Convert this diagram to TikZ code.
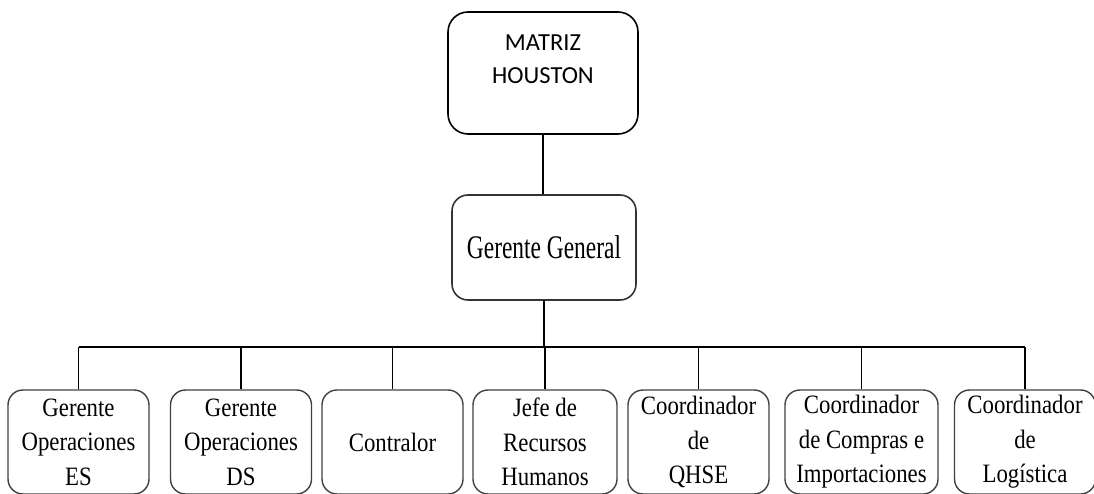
\documentclass[tikz,border=0pt]{standalone}
\usepackage{fontspec}
\newfontfamily\hqfont{Carlito}
\newfontfamily\gerfont[FakeStretch=0.71]{Liberation Serif}
\newfontfamily\unitfont[FakeStretch=0.86]{Liberation Serif}
\begin{document}
\begin{tikzpicture}[x=1pt,y=-1pt,
	topbox/.style={draw=black,line width=1.6pt,rounded corners=20pt,minimum width=190pt,minimum height=122pt,align=center,font={\hqfont\fontsize{24.5}{33}\selectfont},text depth=28pt},
	genbox/.style={draw=black!80,line width=1.6pt,rounded corners=16pt,minimum width=184pt,minimum height=105pt,font={\gerfont\fontsize{33}{37}\selectfont}},
	unitbox/.style={draw=black!75,line width=1.4pt,rounded corners=15pt,minimum width=141pt,minimum height=104pt,inner sep=0pt,align=center,font={\unitfont\fontsize{26.5}{34.5}\selectfont}},
	link/.style={black,line width=1.3pt}]
		\useasboundingbox (0,0) rectangle (1094,494);
		\node[topbox](matriz) at (543,73){MATRIZ\\HOUSTON};
		\node[genbox](gerente) at (544,247.5){Gerente General};
		\node[unitbox](opes) at (78.5,442){Gerente\\Operaciones\\ES};
		\node[unitbox](opds) at (241,442){Gerente\\Operaciones\\DS};
		\node[unitbox](contralor) at (392.5,442){Contralor};
		\node[unitbox,minimum width=144pt](rrhh) at (545,442){Jefe de\\Recursos\\Humanos};
		\node[unitbox](qhse) at (698.5,442){Coordinador\\de\\QHSE};
		\node[unitbox,minimum width=153pt](compras) at (861.5,442){Coordinador\\de Compras e\\Importaciones};
		\node[unitbox](logistica) at (1025,442){Coordinador\\de\\Log\'istica};
		\coordinate (bus) at (545,347);
		\draw[link] (matriz.south) -- (matriz.south |- gerente.north);
		\draw[link] (gerente.south) -- (gerente.south |- bus);
		\draw[link] (opes.north |- bus) -- (logistica.north |- bus);
		\draw[link] (opes.north) -- (opes.north |- bus);
		\draw[link] (opds.north) -- (opds.north |- bus);
		\draw[link] (contralor.north) -- (contralor.north |- bus);
		\draw[link] (rrhh.north) -- (rrhh.north |- bus);
		\draw[link] (qhse.north) -- (qhse.north |- bus);
		\draw[link] (compras.north) -- (compras.north |- bus);
		\draw[link] (logistica.north) -- (logistica.north |- bus);
	\end{tikzpicture}
\end{document}
